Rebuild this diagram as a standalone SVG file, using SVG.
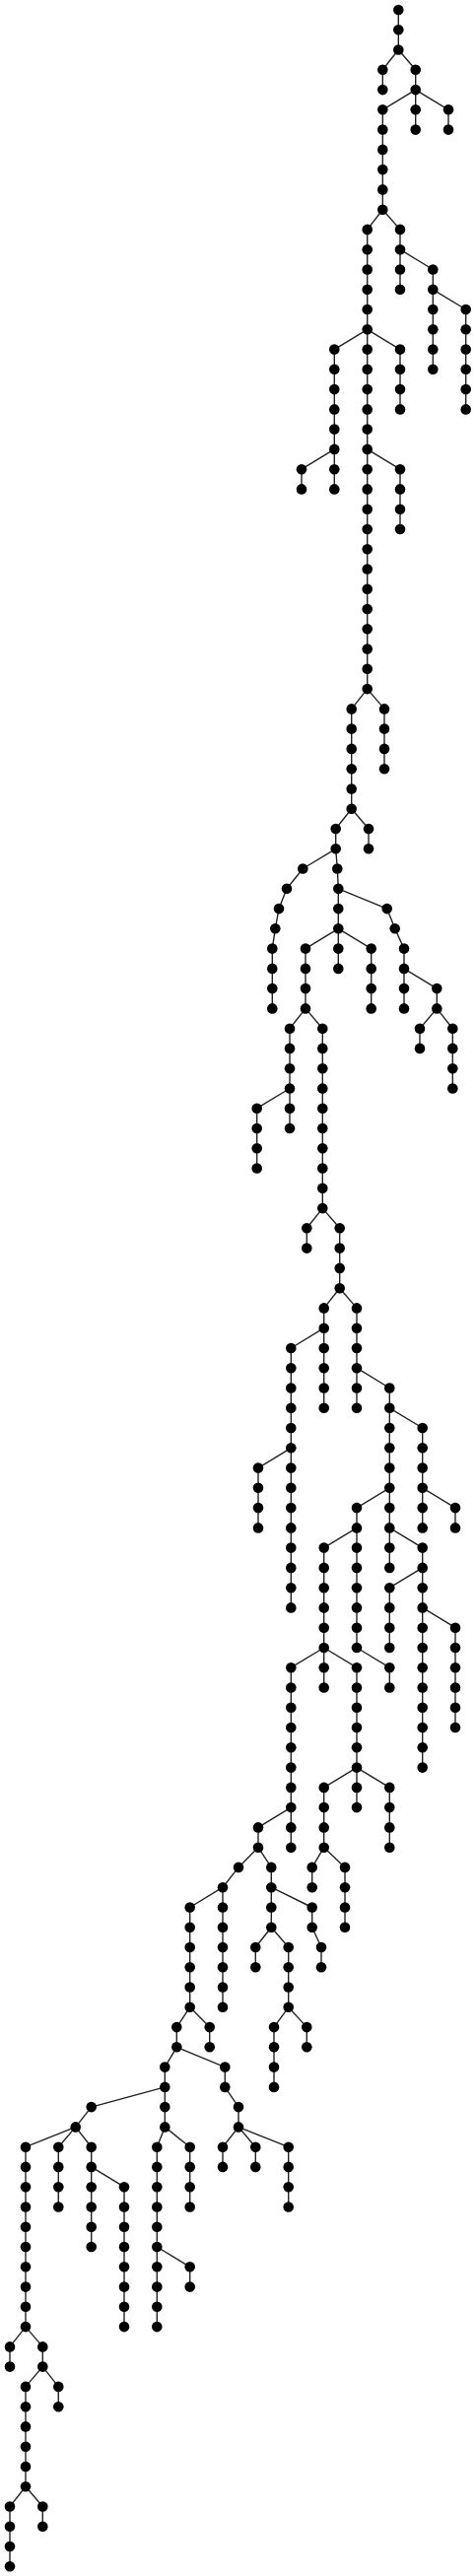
<svg xmlns="http://www.w3.org/2000/svg" width="483" height="2614" viewBox="0 0 483 2614">
<style>
.links path{fill:none;stroke:#222;stroke-width:1.4}
.node circle{fill:#000}
</style>
<rect width="483" height="2614" fill="#fff"/>
<g id="links" class="links">
<path d="M404.3 10L404.3 30.3"/><path d="M404.3 30.3L404.3 50.5"/><path d="M404.3 50.5L388.3 70.8"/><path d="M388.3 70.8L388.3 91.1"/><path d="M404.3 50.5L421.7 70.8"/><path d="M421.7 70.8L421.7 91.1"/><path d="M421.7 91.1L388.3 111.3"/><path d="M421.7 91.1L421.7 111.3"/><path d="M421.7 91.1L455 111.3"/><path d="M421.7 111.3L421.7 131.6"/><path d="M455 111.3L455 131.6"/>
<path d="M388.3 111.3L388.3 131.6"/><path d="M388.3 131.6L388.3 151.9"/><path d="M388.3 151.9L388.3 172.1"/><path d="M388.3 172.1L388.3 192.4"/><path d="M388.3 192.4L388.3 212.7"/><path d="M388.3 212.7L372.7 232.9"/><path d="M388.3 212.7L406 232.9"/>
<path d="M406 232.9L406 253.2"/><path d="M406 253.2L406 273.5"/><path d="M406 273.5L406 293.8"/><path d="M406 253.2L439.3 273.5"/><path d="M439.3 273.5L439.3 293.8"/><path d="M439.3 293.8L439.3 314"/><path d="M439.3 314L439.3 334.3"/><path d="M439.3 334.3L439.3 354.6"/><path d="M439.3 354.6L439.3 374.8"/>
<path d="M439.3 293.8L472.7 314"/><path d="M472.7 314L472.7 334.3"/><path d="M472.7 334.3L472.7 354.6"/><path d="M472.7 354.6L472.7 374.8"/><path d="M472.7 374.8L472.7 395.1"/><path d="M472.7 395.1L472.7 415.4"/>
<path d="M372.7 232.9L372.7 253.2"/><path d="M372.7 253.2L372.7 273.5"/><path d="M372.7 273.5L372.7 293.8"/><path d="M372.7 293.8L372.7 314"/><path d="M372.7 314L372.7 334.3"/>
<path d="M372.7 334.3L339.3 354.6"/><path d="M372.7 334.3L372.7 354.6"/><path d="M372.7 334.3L406 354.6"/>
<path d="M406 354.6L406 374.8"/><path d="M406 374.8L406 395.1"/><path d="M406 395.1L406 415.4"/>
<path d="M339.3 354.6L339.3 374.8"/><path d="M339.3 374.8L339.3 395.1"/><path d="M339.3 395.1L339.3 415.4"/><path d="M339.3 415.4L339.3 435.6"/><path d="M339.3 435.6L339.3 455.9"/>
<path d="M339.3 455.9L306 476.2"/><path d="M306 476.2L306 496.4"/><path d="M339.3 455.9L339.3 476.2"/><path d="M339.3 476.2L339.3 496.4"/>
<path d="M372.7 354.6L372.7 374.8"/><path d="M372.7 374.8L372.7 395.1"/><path d="M372.7 395.1L372.7 415.4"/><path d="M372.7 415.4L372.7 435.6"/><path d="M372.7 435.6L372.7 455.9"/>
<path d="M372.7 455.9L406 476.2"/><path d="M406 476.2L406 496.4"/><path d="M406 496.4L406 516.7"/><path d="M406 516.7L406 537"/>
<path d="M372.7 455.9L372.7 476.2"/><path d="M372.7 476.2L372.7 496.4"/><path d="M372.7 496.4L372.7 516.7"/><path d="M372.7 516.7L372.7 537"/><path d="M372.7 537L372.7 557.2"/><path d="M372.7 557.2L372.7 577.5"/><path d="M372.7 577.5L372.7 597.8"/><path d="M372.7 597.8L372.7 618"/><path d="M372.7 618L372.7 638.3"/><path d="M372.7 638.3L372.7 658.6"/><path d="M372.7 658.6L372.7 678.8"/><path d="M372.7 678.8L372.7 699.1"/>
<path d="M372.7 699.1L356.7 719.4"/><path d="M372.7 699.1L390 719.4"/><path d="M390 719.4L390 739.6"/><path d="M390 739.6L390 759.9"/><path d="M390 759.9L390 780.2"/>
<path d="M356.7 719.4L356.7 739.6"/><path d="M356.7 739.6L356.7 759.9"/><path d="M356.7 759.9L356.7 780.2"/><path d="M356.7 780.2L356.7 800.5"/><path d="M356.7 800.5L356.7 820.7"/>
<path d="M356.7 820.7L340.7 841"/><path d="M340.7 841L340.7 861.3"/><path d="M356.7 820.7L374 841"/><path d="M374 841L374 861.3"/>
<path d="M340.7 861.3L307.3 881.5"/><path d="M307.3 881.5L291 901.8"/><path d="M291 901.8L283 922.1"/><path d="M283 922.1L279.3 942.3"/><path d="M279.3 942.3L276.3 962.6"/><path d="M276.3 962.6L276.3 982.9"/><path d="M276.3 982.9L276.3 1003.1"/><path d="M276.3 1003.1L276.3 1023.4"/>
<path d="M340.7 861.3L342.3 881.5"/><path d="M342.3 881.5L343.3 901.8"/><path d="M343.3 901.8L343.3 922.1"/><path d="M343.3 922.1L343.3 942.3"/>
<path d="M343.3 901.8L392.7 922.1"/><path d="M392.7 922.1L400.7 942.3"/><path d="M400.7 942.3L410 962.6"/><path d="M410 962.6L410 982.9"/><path d="M410 982.9L410 1003.1"/><path d="M410 1003.1L410 1023.4"/>
<path d="M410 982.9L443.3 1003.1"/><path d="M443.3 1003.1L443.3 1023.4"/><path d="M443.3 1023.4L426 1043.7"/><path d="M426 1043.7L426 1063.9"/>
<path d="M443.3 1023.4L459.3 1043.7"/><path d="M459.3 1043.7L459.3 1063.9"/><path d="M459.3 1063.9L459.3 1084.2"/><path d="M459.3 1084.2L459.3 1104.5"/>
<path d="M343.3 942.3L310 962.6"/><path d="M310 962.6L310 982.9"/><path d="M310 982.9L310 1003.1"/><path d="M310 1003.1L310 1023.4"/>
<path d="M343.3 942.3L343.3 962.6"/><path d="M343.3 962.6L343.3 982.9"/>
<path d="M343.3 942.3L376.7 962.6"/><path d="M376.7 962.6L376.7 982.9"/><path d="M376.7 982.9L376.7 1003.1"/><path d="M376.7 1003.1L376.7 1023.4"/>
<path d="M310 1023.4L294 1043.7"/><path d="M294 1043.7L294 1063.9"/><path d="M294 1063.9L294 1084.2"/><path d="M294 1084.2L294 1104.5"/>
<path d="M294 1104.5L260.7 1124.7"/><path d="M260.7 1124.7L260.7 1145"/><path d="M260.7 1145L260.7 1165.3"/><path d="M260.7 1165.3L260.7 1185.5"/>
<path d="M294 1104.5L294 1124.7"/><path d="M294 1124.7L294 1145"/>
<path d="M310 1023.4L327.3 1043.7"/><path d="M327.3 1043.7L327.3 1063.9"/><path d="M327.3 1063.9L327.3 1084.2"/><path d="M327.3 1084.2L327.3 1104.5"/><path d="M327.3 1104.5L327.3 1124.7"/><path d="M327.3 1124.7L327.3 1145"/><path d="M327.3 1145L327.3 1165.3"/><path d="M327.3 1165.3L327.3 1185.5"/><path d="M327.3 1185.5L327.3 1205.8"/><path d="M327.3 1205.8L327.3 1226.1"/>
<path d="M327.3 1226.1L311.3 1246.3"/><path d="M311.3 1246.3L311.3 1266.6"/>
<path d="M327.3 1226.1L344.7 1246.3"/><path d="M344.7 1246.3L344.7 1266.6"/><path d="M344.7 1266.6L344.7 1286.9"/><path d="M344.7 1286.9L344.7 1307.2"/>
<path d="M344.7 1307.2L328.7 1327.4"/><path d="M328.7 1327.4L328.7 1347.7"/>
<path d="M344.7 1307.2L362 1327.4"/><path d="M362 1327.4L362 1347.7"/><path d="M362 1347.7L362 1368"/><path d="M362 1368L362 1388.2"/>
<path d="M328.7 1347.7L295.3 1368"/><path d="M295.3 1368L295.3 1388.2"/><path d="M295.3 1388.2L295.3 1408.5"/><path d="M295.3 1408.5L295.3 1428.8"/><path d="M295.3 1428.8L295.3 1449"/><path d="M295.3 1449L295.3 1469.3"/>
<path d="M328.7 1347.7L328.7 1368"/><path d="M328.7 1368L328.7 1388.2"/><path d="M328.7 1388.2L328.7 1408.5"/><path d="M328.7 1408.5L328.7 1428.8"/>
<path d="M362 1388.2L362 1408.5"/><path d="M362 1408.5L362 1428.8"/>
<path d="M362 1388.2L395.3 1408.5"/><path d="M395.3 1408.5L395.3 1428.8"/>
<path d="M295.3 1469.3L262 1489.6"/><path d="M262 1489.6L262 1509.8"/><path d="M262 1509.8L262 1530.1"/><path d="M262 1530.1L262 1550.4"/>
<path d="M295.3 1469.3L295.3 1489.6"/><path d="M295.3 1489.6L295.3 1509.8"/><path d="M295.3 1509.8L295.3 1530.1"/><path d="M295.3 1530.1L295.3 1550.4"/><path d="M295.3 1550.4L295.3 1570.6"/><path d="M295.3 1570.6L295.3 1590.9"/><path d="M295.3 1590.9L295.3 1611.2"/><path d="M295.3 1611.2L295.3 1631.4"/>
<path d="M395.3 1428.8L395.3 1449"/><path d="M395.3 1449L395.3 1469.3"/><path d="M395.3 1469.3L395.3 1489.6"/><path d="M395.3 1489.6L395.3 1509.8"/>
<path d="M395.3 1428.8L428.7 1449"/><path d="M428.7 1449L428.7 1469.3"/><path d="M428.7 1469.3L428.7 1489.6"/><path d="M428.7 1489.6L428.7 1509.8"/>
<path d="M395.3 1509.8L362 1530.1"/><path d="M362 1530.1L362 1550.4"/><path d="M395.3 1509.8L395.3 1530.1"/><path d="M395.3 1530.1L395.3 1550.4"/>
<path d="M428.7 1509.8L428.7 1530.1"/><path d="M428.7 1530.1L428.7 1550.4"/><path d="M428.7 1509.8L462 1530.1"/><path d="M462 1530.1L462 1550.4"/>
<path d="M362 1550.4L328.7 1570.6"/><path d="M328.7 1570.6L328.7 1590.9"/><path d="M328.7 1590.9L328.7 1611.2"/><path d="M328.7 1611.2L328.7 1631.4"/><path d="M328.7 1631.4L328.7 1651.7"/><path d="M328.7 1651.7L328.7 1672"/>
<path d="M362 1550.4L362 1570.6"/><path d="M362 1570.6L362 1590.9"/><path d="M362 1590.9L362 1611.2"/><path d="M362 1611.2L362 1631.4"/><path d="M362 1631.4L362 1651.7"/><path d="M362 1651.7L362 1672"/>
<path d="M395.3 1550.4L395.3 1570.6"/><path d="M395.3 1570.6L395.3 1590.9"/>
<path d="M395.3 1550.4L428.7 1570.6"/><path d="M428.7 1570.6L428.7 1590.9"/>
<path d="M428.7 1590.9L395.3 1611.2"/><path d="M395.3 1611.2L395.3 1631.4"/><path d="M395.3 1631.4L395.3 1651.7"/><path d="M395.3 1651.7L395.3 1672"/>
<path d="M428.7 1590.9L428.7 1611.2"/><path d="M428.7 1611.2L428.7 1631.4"/>
<path d="M428.7 1631.4L428.7 1651.7"/><path d="M428.7 1651.7L428.7 1672"/><path d="M428.7 1672L428.7 1692.2"/><path d="M428.7 1692.2L428.7 1712.5"/><path d="M428.7 1712.5L428.7 1732.8"/><path d="M428.7 1732.8L428.7 1753"/><path d="M428.7 1753L428.7 1773.3"/><path d="M428.7 1773.3L428.7 1793.6"/>
<path d="M428.7 1631.4L462 1651.7"/><path d="M462 1651.7L462 1672"/><path d="M462 1672L462 1692.2"/><path d="M462 1692.2L462 1712.5"/><path d="M462 1712.5L462 1732.8"/><path d="M462 1732.8L462 1753"/>
<path d="M328.7 1672L295.3 1692.2"/><path d="M295.3 1692.2L295.3 1712.5"/><path d="M295.3 1712.5L295.3 1732.8"/><path d="M295.3 1732.8L295.3 1753"/><path d="M295.3 1753L295.3 1773.3"/><path d="M295.3 1773.3L295.3 1793.6"/><path d="M295.3 1793.6L295.3 1813.9"/><path d="M295.3 1813.9L295.3 1834.1"/>
<path d="M328.7 1672L328.7 1692.2"/><path d="M328.7 1692.2L328.7 1712.5"/>
<path d="M328.7 1672L362 1692.2"/><path d="M362 1692.2L362 1712.5"/><path d="M362 1712.5L362 1732.8"/><path d="M362 1732.8L362 1753"/><path d="M362 1753L362 1773.3"/><path d="M362 1773.3L362 1793.6"/>
<path d="M362 1672L395.3 1692.2"/><path d="M395.3 1692.2L395.3 1712.5"/>
<path d="M362 1793.6L328.7 1813.9"/><path d="M328.7 1813.9L328.7 1834.1"/><path d="M328.7 1834.1L328.7 1854.4"/><path d="M328.7 1854.4L328.7 1874.7"/>
<path d="M362 1793.6L362 1813.9"/><path d="M362 1813.9L362 1834.1"/>
<path d="M362 1793.6L395.3 1813.9"/><path d="M395.3 1813.9L395.3 1834.1"/><path d="M395.3 1834.1L395.3 1854.4"/><path d="M395.3 1854.4L395.3 1874.7"/>
<path d="M295.3 1834.1L262 1854.4"/><path d="M262 1854.4L262 1874.7"/><path d="M295.3 1834.1L295.3 1854.4"/><path d="M295.3 1854.4L295.3 1874.7"/>
<path d="M328.7 1874.7L316.7 1894.9"/><path d="M316.7 1894.9L316.7 1915.2"/>
<path d="M328.7 1874.7L350 1894.9"/><path d="M350 1894.9L350 1915.2"/><path d="M350 1915.2L350 1935.5"/><path d="M350 1935.5L350 1955.7"/>
<path d="M262 1874.7L242 1894.9"/><path d="M242 1894.9L226 1915.2"/><path d="M262 1874.7L275.3 1894.9"/><path d="M275.3 1894.9L275.3 1915.2"/>
<path d="M226 1915.2L192.7 1935.5"/><path d="M192.7 1935.5L192.7 1955.7"/><path d="M192.7 1955.7L192.7 1976"/><path d="M192.7 1976L192.7 1996.3"/><path d="M192.7 1996.3L192.7 2016.5"/><path d="M192.7 2016.5L192.7 2036.8"/>
<path d="M226 1915.2L226 1935.5"/><path d="M226 1935.5L226 1955.7"/><path d="M226 1955.7L226 1976"/><path d="M226 1976L226 1996.3"/><path d="M226 1996.3L226 2016.5"/><path d="M226 2016.5L226 2036.8"/>
<path d="M275.3 1915.2L275.3 1935.5"/><path d="M275.3 1935.5L275.3 1955.7"/>
<path d="M275.3 1915.2L316.7 1935.5"/><path d="M316.7 1935.5L316.7 1955.7"/><path d="M316.7 1955.7L326 1976"/><path d="M326 1976L326 1996.3"/>
<path d="M275.3 1955.7L259.3 1976"/><path d="M259.3 1976L259.3 1996.3"/>
<path d="M275.3 1955.7L292.7 1976"/><path d="M292.7 1976L292.7 1996.3"/><path d="M292.7 1996.3L292.7 2016.5"/><path d="M292.7 2016.5L292.7 2036.8"/>
<path d="M292.7 2036.8L278 2057.1"/><path d="M278 2057.1L278 2077.3"/><path d="M278 2077.3L278 2097.6"/><path d="M278 2097.6L278 2117.9"/>
<path d="M292.7 2036.8L311.3 2057.1"/><path d="M311.3 2057.1L311.3 2077.3"/>
<path d="M192.7 2036.8L179.3 2057.1"/><path d="M179.3 2057.1L179.3 2077.3"/><path d="M192.7 2036.8L212.7 2057.1"/><path d="M212.7 2057.1L212.7 2077.3"/>
<path d="M179.3 2077.3L167.3 2097.6"/><path d="M167.3 2097.6L167.3 2117.9"/>
<path d="M179.3 2077.3L228.3 2097.6"/><path d="M228.3 2097.6L228.3 2117.9"/><path d="M228.3 2117.9L242 2138.1"/><path d="M242 2138.1L242 2158.4"/>
<path d="M167.3 2117.9L92.7 2138.1"/><path d="M92.7 2138.1L76.7 2158.4"/>
<path d="M167.3 2117.9L167.3 2138.1"/><path d="M167.3 2138.1L167.3 2158.4"/>
<path d="M76.7 2158.4L26 2178.7"/><path d="M26 2178.7L26 2198.9"/><path d="M26 2198.9L26 2219.2"/><path d="M26 2219.2L26 2239.5"/><path d="M26 2239.5L26 2259.7"/><path d="M26 2259.7L26 2280"/><path d="M26 2280L26 2300.3"/><path d="M26 2300.3L26 2320.6"/><path d="M26 2320.6L26 2340.8"/><path d="M26 2340.8L26 2361.1"/>
<path d="M76.7 2158.4L59.3 2178.7"/><path d="M59.3 2178.7L59.3 2198.9"/><path d="M59.3 2198.9L59.3 2219.2"/><path d="M59.3 2219.2L59.3 2239.5"/>
<path d="M76.7 2158.4L92.7 2178.7"/><path d="M92.7 2178.7L92.7 2198.9"/>
<path d="M92.7 2198.9L92.7 2219.2"/><path d="M92.7 2219.2L92.7 2239.5"/><path d="M92.7 2239.5L92.7 2259.7"/><path d="M92.7 2259.7L92.7 2280"/>
<path d="M92.7 2198.9L126 2219.2"/><path d="M126 2219.2L126 2239.5"/><path d="M126 2239.5L126 2259.7"/><path d="M126 2259.7L126 2280"/><path d="M126 2280L126 2300.3"/><path d="M126 2300.3L126 2320.6"/><path d="M126 2320.6L126 2340.8"/><path d="M126 2340.8L126 2361.1"/>
<path d="M167.3 2158.4L159.3 2178.7"/><path d="M159.3 2178.7L159.3 2198.9"/><path d="M159.3 2198.9L159.3 2219.2"/><path d="M159.3 2219.2L159.3 2239.5"/><path d="M159.3 2239.5L159.3 2259.7"/><path d="M159.3 2259.7L159.3 2280"/>
<path d="M159.3 2280L159.3 2300.3"/><path d="M159.3 2300.3L159.3 2320.6"/><path d="M159.3 2320.6L159.3 2340.8"/><path d="M159.3 2340.8L159.3 2361.1"/>
<path d="M159.3 2280L192.7 2300.3"/><path d="M192.7 2300.3L192.7 2320.6"/>
<path d="M167.3 2158.4L192.7 2178.7"/><path d="M192.7 2178.7L192.7 2198.9"/><path d="M192.7 2198.9L192.7 2219.2"/><path d="M192.7 2219.2L192.7 2239.5"/>
<path d="M242 2158.4L226 2178.7"/><path d="M226 2178.7L226 2198.9"/>
<path d="M242 2158.4L259.3 2178.7"/><path d="M259.3 2178.7L259.3 2198.9"/>
<path d="M242 2158.4L292.7 2178.7"/><path d="M292.7 2178.7L292.7 2198.9"/><path d="M292.7 2198.9L292.7 2219.2"/><path d="M292.7 2219.2L292.7 2239.5"/>
<path d="M26 2361.1L10 2381.4"/><path d="M10 2381.4L10 2401.6"/>
<path d="M26 2361.1L43.3 2381.4"/><path d="M43.3 2381.4L43.3 2401.6"/>
<path d="M43.3 2401.6L26 2421.9"/><path d="M26 2421.9L26 2442.2"/><path d="M26 2442.2L26 2462.4"/><path d="M26 2462.4L26 2482.7"/><path d="M26 2482.7L26 2503"/><path d="M26 2503L26 2523.2"/>
<path d="M43.3 2401.6L59.3 2421.9"/><path d="M59.3 2421.9L59.3 2442.2"/>
<path d="M26 2523.2L10 2543.5"/><path d="M10 2543.5L10 2563.8"/><path d="M10 2563.8L10 2584"/><path d="M10 2584L10 2604.3"/>
<path d="M26 2523.2L43.3 2543.5"/><path d="M43.3 2543.5L43.3 2563.8"/>
</g>
<g class="node">
<g id="n0"><circle cx="404.3" cy="10" r="5.3"/></g><g id="n1"><circle cx="404.3" cy="30.3" r="5.3"/></g><g id="n2"><circle cx="404.3" cy="50.5" r="5.3"/></g><g id="n3"><circle cx="388.3" cy="70.8" r="5.3"/></g><g id="n4"><circle cx="388.3" cy="91.1" r="5.3"/></g><g id="n5"><circle cx="421.7" cy="70.8" r="5.3"/></g><g id="n6"><circle cx="421.7" cy="91.1" r="5.3"/></g><g id="n7"><circle cx="388.3" cy="111.3" r="5.3"/></g><g id="n8"><circle cx="421.7" cy="111.3" r="5.3"/></g><g id="n9"><circle cx="455" cy="111.3" r="5.3"/></g>
<g id="n10"><circle cx="421.7" cy="131.6" r="5.3"/></g><g id="n11"><circle cx="455" cy="131.6" r="5.3"/></g><g id="n12"><circle cx="388.3" cy="131.6" r="5.3"/></g><g id="n13"><circle cx="388.3" cy="151.9" r="5.3"/></g><g id="n14"><circle cx="388.3" cy="172.1" r="5.3"/></g><g id="n15"><circle cx="388.3" cy="192.4" r="5.3"/></g><g id="n16"><circle cx="388.3" cy="212.7" r="5.3"/></g><g id="n17"><circle cx="372.7" cy="232.9" r="5.3"/></g><g id="n18"><circle cx="406" cy="232.9" r="5.3"/></g><g id="n19"><circle cx="406" cy="253.2" r="5.3"/></g>
<g id="n20"><circle cx="406" cy="273.5" r="5.3"/></g><g id="n21"><circle cx="406" cy="293.8" r="5.3"/></g><g id="n22"><circle cx="439.3" cy="273.5" r="5.3"/></g><g id="n23"><circle cx="439.3" cy="293.8" r="5.3"/></g><g id="n24"><circle cx="439.3" cy="314" r="5.3"/></g><g id="n25"><circle cx="439.3" cy="334.3" r="5.3"/></g><g id="n26"><circle cx="439.3" cy="354.6" r="5.3"/></g><g id="n27"><circle cx="439.3" cy="374.8" r="5.3"/></g><g id="n28"><circle cx="472.7" cy="314" r="5.3"/></g><g id="n29"><circle cx="472.7" cy="334.3" r="5.3"/></g>
<g id="n30"><circle cx="472.7" cy="354.6" r="5.3"/></g><g id="n31"><circle cx="472.7" cy="374.8" r="5.3"/></g><g id="n32"><circle cx="472.7" cy="395.1" r="5.3"/></g><g id="n33"><circle cx="472.7" cy="415.4" r="5.3"/></g><g id="n34"><circle cx="372.7" cy="253.2" r="5.3"/></g><g id="n35"><circle cx="372.7" cy="273.5" r="5.3"/></g><g id="n36"><circle cx="372.7" cy="293.8" r="5.3"/></g><g id="n37"><circle cx="372.7" cy="314" r="5.3"/></g><g id="n38"><circle cx="372.7" cy="334.3" r="5.3"/></g><g id="n39"><circle cx="339.3" cy="354.6" r="5.3"/></g>
<g id="n40"><circle cx="372.7" cy="354.6" r="5.3"/></g><g id="n41"><circle cx="406" cy="354.6" r="5.3"/></g><g id="n42"><circle cx="406" cy="374.8" r="5.3"/></g><g id="n43"><circle cx="406" cy="395.1" r="5.3"/></g><g id="n44"><circle cx="406" cy="415.4" r="5.3"/></g><g id="n45"><circle cx="339.3" cy="374.8" r="5.3"/></g><g id="n46"><circle cx="339.3" cy="395.1" r="5.3"/></g><g id="n47"><circle cx="339.3" cy="415.4" r="5.3"/></g><g id="n48"><circle cx="339.3" cy="435.6" r="5.3"/></g><g id="n49"><circle cx="339.3" cy="455.9" r="5.3"/></g>
<g id="n50"><circle cx="306" cy="476.2" r="5.3"/></g><g id="n51"><circle cx="306" cy="496.4" r="5.3"/></g><g id="n52"><circle cx="339.3" cy="476.2" r="5.3"/></g><g id="n53"><circle cx="339.3" cy="496.4" r="5.3"/></g><g id="n54"><circle cx="372.7" cy="374.8" r="5.3"/></g><g id="n55"><circle cx="372.7" cy="395.1" r="5.3"/></g><g id="n56"><circle cx="372.7" cy="415.4" r="5.3"/></g><g id="n57"><circle cx="372.7" cy="435.6" r="5.3"/></g><g id="n58"><circle cx="372.7" cy="455.9" r="5.3"/></g><g id="n59"><circle cx="406" cy="476.2" r="5.3"/></g>
<g id="n60"><circle cx="406" cy="496.4" r="5.3"/></g><g id="n61"><circle cx="406" cy="516.7" r="5.3"/></g><g id="n62"><circle cx="406" cy="537" r="5.3"/></g><g id="n63"><circle cx="372.7" cy="476.2" r="5.3"/></g><g id="n64"><circle cx="372.7" cy="496.4" r="5.3"/></g><g id="n65"><circle cx="372.7" cy="516.7" r="5.3"/></g><g id="n66"><circle cx="372.7" cy="537" r="5.3"/></g><g id="n67"><circle cx="372.7" cy="557.2" r="5.3"/></g><g id="n68"><circle cx="372.7" cy="577.5" r="5.3"/></g><g id="n69"><circle cx="372.7" cy="597.8" r="5.3"/></g>
<g id="n70"><circle cx="372.7" cy="618" r="5.3"/></g><g id="n71"><circle cx="372.7" cy="638.3" r="5.3"/></g><g id="n72"><circle cx="372.7" cy="658.6" r="5.3"/></g><g id="n73"><circle cx="372.7" cy="678.8" r="5.3"/></g><g id="n74"><circle cx="372.7" cy="699.1" r="5.3"/></g><g id="n75"><circle cx="356.7" cy="719.4" r="5.3"/></g><g id="n76"><circle cx="390" cy="719.4" r="5.3"/></g><g id="n77"><circle cx="390" cy="739.6" r="5.3"/></g><g id="n78"><circle cx="390" cy="759.9" r="5.3"/></g><g id="n79"><circle cx="390" cy="780.2" r="5.3"/></g>
<g id="n80"><circle cx="356.7" cy="739.6" r="5.3"/></g><g id="n81"><circle cx="356.7" cy="759.9" r="5.3"/></g><g id="n82"><circle cx="356.7" cy="780.2" r="5.3"/></g><g id="n83"><circle cx="356.7" cy="800.5" r="5.3"/></g><g id="n84"><circle cx="356.7" cy="820.7" r="5.3"/></g><g id="n85"><circle cx="340.7" cy="841" r="5.3"/></g><g id="n86"><circle cx="340.7" cy="861.3" r="5.3"/></g><g id="n87"><circle cx="374" cy="841" r="5.3"/></g><g id="n88"><circle cx="374" cy="861.3" r="5.3"/></g><g id="n89"><circle cx="307.3" cy="881.5" r="5.3"/></g>
<g id="n90"><circle cx="291" cy="901.8" r="5.3"/></g><g id="n91"><circle cx="283" cy="922.1" r="5.3"/></g><g id="n92"><circle cx="279.3" cy="942.3" r="5.3"/></g><g id="n93"><circle cx="276.3" cy="962.6" r="5.3"/></g><g id="n94"><circle cx="276.3" cy="982.9" r="5.3"/></g><g id="n95"><circle cx="276.3" cy="1003.1" r="5.3"/></g><g id="n96"><circle cx="276.3" cy="1023.4" r="5.3"/></g><g id="n97"><circle cx="342.3" cy="881.5" r="5.3"/></g><g id="n98"><circle cx="343.3" cy="901.8" r="5.3"/></g><g id="n99"><circle cx="343.3" cy="922.1" r="5.3"/></g>
<g id="n100"><circle cx="343.3" cy="942.3" r="5.3"/></g><g id="n101"><circle cx="392.7" cy="922.1" r="5.3"/></g><g id="n102"><circle cx="400.7" cy="942.3" r="5.3"/></g><g id="n103"><circle cx="410" cy="962.6" r="5.3"/></g><g id="n104"><circle cx="410" cy="982.9" r="5.3"/></g><g id="n105"><circle cx="410" cy="1003.1" r="5.3"/></g><g id="n106"><circle cx="410" cy="1023.4" r="5.3"/></g><g id="n107"><circle cx="443.3" cy="1003.1" r="5.3"/></g><g id="n108"><circle cx="443.3" cy="1023.4" r="5.3"/></g><g id="n109"><circle cx="426" cy="1043.7" r="5.3"/></g>
<g id="n110"><circle cx="426" cy="1063.9" r="5.3"/></g><g id="n111"><circle cx="459.3" cy="1043.7" r="5.3"/></g><g id="n112"><circle cx="459.3" cy="1063.9" r="5.3"/></g><g id="n113"><circle cx="459.3" cy="1084.2" r="5.3"/></g><g id="n114"><circle cx="459.3" cy="1104.5" r="5.3"/></g><g id="n115"><circle cx="310" cy="962.6" r="5.3"/></g><g id="n116"><circle cx="310" cy="982.9" r="5.3"/></g><g id="n117"><circle cx="310" cy="1003.1" r="5.3"/></g><g id="n118"><circle cx="310" cy="1023.4" r="5.3"/></g><g id="n119"><circle cx="343.3" cy="962.6" r="5.3"/></g>
<g id="n120"><circle cx="343.3" cy="982.9" r="5.3"/></g><g id="n121"><circle cx="376.7" cy="962.6" r="5.3"/></g><g id="n122"><circle cx="376.7" cy="982.9" r="5.3"/></g><g id="n123"><circle cx="376.7" cy="1003.1" r="5.3"/></g><g id="n124"><circle cx="376.7" cy="1023.4" r="5.3"/></g><g id="n125"><circle cx="294" cy="1043.7" r="5.3"/></g><g id="n126"><circle cx="294" cy="1063.9" r="5.3"/></g><g id="n127"><circle cx="294" cy="1084.2" r="5.3"/></g><g id="n128"><circle cx="294" cy="1104.5" r="5.3"/></g><g id="n129"><circle cx="260.7" cy="1124.7" r="5.3"/></g>
<g id="n130"><circle cx="260.7" cy="1145" r="5.3"/></g><g id="n131"><circle cx="260.7" cy="1165.3" r="5.3"/></g><g id="n132"><circle cx="260.7" cy="1185.5" r="5.3"/></g><g id="n133"><circle cx="294" cy="1124.7" r="5.3"/></g><g id="n134"><circle cx="294" cy="1145" r="5.3"/></g><g id="n135"><circle cx="327.3" cy="1043.7" r="5.3"/></g><g id="n136"><circle cx="327.3" cy="1063.9" r="5.3"/></g><g id="n137"><circle cx="327.3" cy="1084.2" r="5.3"/></g><g id="n138"><circle cx="327.3" cy="1104.5" r="5.3"/></g><g id="n139"><circle cx="327.3" cy="1124.7" r="5.3"/></g>
<g id="n140"><circle cx="327.3" cy="1145" r="5.3"/></g><g id="n141"><circle cx="327.3" cy="1165.3" r="5.3"/></g><g id="n142"><circle cx="327.3" cy="1185.5" r="5.3"/></g><g id="n143"><circle cx="327.3" cy="1205.8" r="5.3"/></g><g id="n144"><circle cx="327.3" cy="1226.1" r="5.3"/></g><g id="n145"><circle cx="311.3" cy="1246.3" r="5.3"/></g><g id="n146"><circle cx="311.3" cy="1266.6" r="5.3"/></g><g id="n147"><circle cx="344.7" cy="1246.3" r="5.3"/></g><g id="n148"><circle cx="344.7" cy="1266.6" r="5.3"/></g><g id="n149"><circle cx="344.7" cy="1286.9" r="5.3"/></g>
<g id="n150"><circle cx="344.7" cy="1307.2" r="5.3"/></g><g id="n151"><circle cx="328.7" cy="1327.4" r="5.3"/></g><g id="n152"><circle cx="328.7" cy="1347.7" r="5.3"/></g><g id="n153"><circle cx="362" cy="1327.4" r="5.3"/></g><g id="n154"><circle cx="362" cy="1347.7" r="5.3"/></g><g id="n155"><circle cx="362" cy="1368" r="5.3"/></g><g id="n156"><circle cx="362" cy="1388.2" r="5.3"/></g><g id="n157"><circle cx="295.3" cy="1368" r="5.3"/></g><g id="n158"><circle cx="295.3" cy="1388.2" r="5.3"/></g><g id="n159"><circle cx="295.3" cy="1408.5" r="5.3"/></g>
<g id="n160"><circle cx="295.3" cy="1428.8" r="5.3"/></g><g id="n161"><circle cx="295.3" cy="1449" r="5.3"/></g><g id="n162"><circle cx="295.3" cy="1469.3" r="5.3"/></g><g id="n163"><circle cx="328.7" cy="1368" r="5.3"/></g><g id="n164"><circle cx="328.7" cy="1388.2" r="5.3"/></g><g id="n165"><circle cx="328.7" cy="1408.5" r="5.3"/></g><g id="n166"><circle cx="328.7" cy="1428.8" r="5.3"/></g><g id="n167"><circle cx="362" cy="1408.5" r="5.3"/></g><g id="n168"><circle cx="362" cy="1428.8" r="5.3"/></g><g id="n169"><circle cx="395.3" cy="1408.5" r="5.3"/></g>
<g id="n170"><circle cx="395.3" cy="1428.8" r="5.3"/></g><g id="n171"><circle cx="262" cy="1489.6" r="5.3"/></g><g id="n172"><circle cx="262" cy="1509.8" r="5.3"/></g><g id="n173"><circle cx="262" cy="1530.1" r="5.3"/></g><g id="n174"><circle cx="262" cy="1550.4" r="5.3"/></g><g id="n175"><circle cx="295.3" cy="1489.6" r="5.3"/></g><g id="n176"><circle cx="295.3" cy="1509.8" r="5.3"/></g><g id="n177"><circle cx="295.3" cy="1530.1" r="5.3"/></g><g id="n178"><circle cx="295.3" cy="1550.4" r="5.3"/></g><g id="n179"><circle cx="295.3" cy="1570.6" r="5.3"/></g>
<g id="n180"><circle cx="295.3" cy="1590.9" r="5.3"/></g><g id="n181"><circle cx="295.3" cy="1611.2" r="5.3"/></g><g id="n182"><circle cx="295.3" cy="1631.4" r="5.3"/></g><g id="n183"><circle cx="395.3" cy="1449" r="5.3"/></g><g id="n184"><circle cx="395.3" cy="1469.3" r="5.3"/></g><g id="n185"><circle cx="395.3" cy="1489.6" r="5.3"/></g><g id="n186"><circle cx="395.3" cy="1509.8" r="5.3"/></g><g id="n187"><circle cx="428.7" cy="1449" r="5.3"/></g><g id="n188"><circle cx="428.7" cy="1469.3" r="5.3"/></g><g id="n189"><circle cx="428.7" cy="1489.6" r="5.3"/></g>
<g id="n190"><circle cx="428.7" cy="1509.8" r="5.3"/></g><g id="n191"><circle cx="362" cy="1530.1" r="5.3"/></g><g id="n192"><circle cx="362" cy="1550.4" r="5.3"/></g><g id="n193"><circle cx="395.3" cy="1530.1" r="5.3"/></g><g id="n194"><circle cx="395.3" cy="1550.4" r="5.3"/></g><g id="n195"><circle cx="428.7" cy="1530.1" r="5.3"/></g><g id="n196"><circle cx="428.7" cy="1550.4" r="5.3"/></g><g id="n197"><circle cx="462" cy="1530.1" r="5.3"/></g><g id="n198"><circle cx="462" cy="1550.4" r="5.3"/></g><g id="n199"><circle cx="328.7" cy="1570.6" r="5.3"/></g>
<g id="n200"><circle cx="328.7" cy="1590.9" r="5.3"/></g><g id="n201"><circle cx="328.7" cy="1611.2" r="5.3"/></g><g id="n202"><circle cx="328.7" cy="1631.4" r="5.3"/></g><g id="n203"><circle cx="328.7" cy="1651.7" r="5.3"/></g><g id="n204"><circle cx="328.7" cy="1672" r="5.3"/></g><g id="n205"><circle cx="362" cy="1570.6" r="5.3"/></g><g id="n206"><circle cx="362" cy="1590.9" r="5.3"/></g><g id="n207"><circle cx="362" cy="1611.2" r="5.3"/></g><g id="n208"><circle cx="362" cy="1631.4" r="5.3"/></g><g id="n209"><circle cx="362" cy="1651.7" r="5.3"/></g>
<g id="n210"><circle cx="362" cy="1672" r="5.3"/></g><g id="n211"><circle cx="395.3" cy="1570.6" r="5.3"/></g><g id="n212"><circle cx="395.3" cy="1590.9" r="5.3"/></g><g id="n213"><circle cx="428.7" cy="1570.6" r="5.3"/></g><g id="n214"><circle cx="428.7" cy="1590.9" r="5.3"/></g><g id="n215"><circle cx="395.3" cy="1611.2" r="5.3"/></g><g id="n216"><circle cx="395.3" cy="1631.4" r="5.3"/></g><g id="n217"><circle cx="395.3" cy="1651.7" r="5.3"/></g><g id="n218"><circle cx="395.3" cy="1672" r="5.3"/></g><g id="n219"><circle cx="428.7" cy="1611.2" r="5.3"/></g>
<g id="n220"><circle cx="428.7" cy="1631.4" r="5.3"/></g><g id="n221"><circle cx="428.7" cy="1651.7" r="5.3"/></g><g id="n222"><circle cx="428.7" cy="1672" r="5.3"/></g><g id="n223"><circle cx="428.7" cy="1692.2" r="5.3"/></g><g id="n224"><circle cx="428.7" cy="1712.5" r="5.3"/></g><g id="n225"><circle cx="428.7" cy="1732.8" r="5.3"/></g><g id="n226"><circle cx="428.7" cy="1753" r="5.3"/></g><g id="n227"><circle cx="428.7" cy="1773.3" r="5.3"/></g><g id="n228"><circle cx="428.7" cy="1793.6" r="5.3"/></g><g id="n229"><circle cx="462" cy="1651.7" r="5.3"/></g>
<g id="n230"><circle cx="462" cy="1672" r="5.3"/></g><g id="n231"><circle cx="462" cy="1692.2" r="5.3"/></g><g id="n232"><circle cx="462" cy="1712.5" r="5.3"/></g><g id="n233"><circle cx="462" cy="1732.8" r="5.3"/></g><g id="n234"><circle cx="462" cy="1753" r="5.3"/></g><g id="n235"><circle cx="295.3" cy="1692.2" r="5.3"/></g><g id="n236"><circle cx="295.3" cy="1712.5" r="5.3"/></g><g id="n237"><circle cx="295.3" cy="1732.8" r="5.3"/></g><g id="n238"><circle cx="295.3" cy="1753" r="5.3"/></g><g id="n239"><circle cx="295.3" cy="1773.3" r="5.3"/></g>
<g id="n240"><circle cx="295.3" cy="1793.6" r="5.3"/></g><g id="n241"><circle cx="295.3" cy="1813.9" r="5.3"/></g><g id="n242"><circle cx="295.3" cy="1834.1" r="5.3"/></g><g id="n243"><circle cx="328.7" cy="1692.2" r="5.3"/></g><g id="n244"><circle cx="328.7" cy="1712.5" r="5.3"/></g><g id="n245"><circle cx="362" cy="1692.2" r="5.3"/></g><g id="n246"><circle cx="362" cy="1712.5" r="5.3"/></g><g id="n247"><circle cx="362" cy="1732.8" r="5.3"/></g><g id="n248"><circle cx="362" cy="1753" r="5.3"/></g><g id="n249"><circle cx="362" cy="1773.3" r="5.3"/></g>
<g id="n250"><circle cx="362" cy="1793.6" r="5.3"/></g><g id="n251"><circle cx="395.3" cy="1692.2" r="5.3"/></g><g id="n252"><circle cx="395.3" cy="1712.5" r="5.3"/></g><g id="n253"><circle cx="328.7" cy="1813.9" r="5.3"/></g><g id="n254"><circle cx="328.7" cy="1834.1" r="5.3"/></g><g id="n255"><circle cx="328.7" cy="1854.4" r="5.3"/></g><g id="n256"><circle cx="328.7" cy="1874.7" r="5.3"/></g><g id="n257"><circle cx="362" cy="1813.9" r="5.3"/></g><g id="n258"><circle cx="362" cy="1834.1" r="5.3"/></g><g id="n259"><circle cx="395.3" cy="1813.9" r="5.3"/></g>
<g id="n260"><circle cx="395.3" cy="1834.1" r="5.3"/></g><g id="n261"><circle cx="395.3" cy="1854.4" r="5.3"/></g><g id="n262"><circle cx="395.3" cy="1874.7" r="5.3"/></g><g id="n263"><circle cx="262" cy="1854.4" r="5.3"/></g><g id="n264"><circle cx="262" cy="1874.7" r="5.3"/></g><g id="n265"><circle cx="295.3" cy="1854.4" r="5.3"/></g><g id="n266"><circle cx="295.3" cy="1874.7" r="5.3"/></g><g id="n267"><circle cx="316.7" cy="1894.9" r="5.3"/></g><g id="n268"><circle cx="316.7" cy="1915.2" r="5.3"/></g><g id="n269"><circle cx="350" cy="1894.9" r="5.3"/></g>
<g id="n270"><circle cx="350" cy="1915.2" r="5.3"/></g><g id="n271"><circle cx="350" cy="1935.5" r="5.3"/></g><g id="n272"><circle cx="350" cy="1955.7" r="5.3"/></g><g id="n273"><circle cx="242" cy="1894.9" r="5.3"/></g><g id="n274"><circle cx="226" cy="1915.2" r="5.3"/></g><g id="n275"><circle cx="275.3" cy="1894.9" r="5.3"/></g><g id="n276"><circle cx="275.3" cy="1915.2" r="5.3"/></g><g id="n277"><circle cx="192.7" cy="1935.5" r="5.3"/></g><g id="n278"><circle cx="192.7" cy="1955.7" r="5.3"/></g><g id="n279"><circle cx="192.7" cy="1976" r="5.3"/></g>
<g id="n280"><circle cx="192.7" cy="1996.3" r="5.3"/></g><g id="n281"><circle cx="192.7" cy="2016.5" r="5.3"/></g><g id="n282"><circle cx="192.7" cy="2036.8" r="5.3"/></g><g id="n283"><circle cx="226" cy="1935.5" r="5.3"/></g><g id="n284"><circle cx="226" cy="1955.7" r="5.3"/></g><g id="n285"><circle cx="226" cy="1976" r="5.3"/></g><g id="n286"><circle cx="226" cy="1996.3" r="5.3"/></g><g id="n287"><circle cx="226" cy="2016.5" r="5.3"/></g><g id="n288"><circle cx="226" cy="2036.8" r="5.3"/></g><g id="n289"><circle cx="275.3" cy="1935.5" r="5.3"/></g>
<g id="n290"><circle cx="275.3" cy="1955.7" r="5.3"/></g><g id="n291"><circle cx="316.7" cy="1935.5" r="5.3"/></g><g id="n292"><circle cx="316.7" cy="1955.7" r="5.3"/></g><g id="n293"><circle cx="326" cy="1976" r="5.3"/></g><g id="n294"><circle cx="326" cy="1996.3" r="5.3"/></g><g id="n295"><circle cx="259.3" cy="1976" r="5.3"/></g><g id="n296"><circle cx="259.3" cy="1996.3" r="5.3"/></g><g id="n297"><circle cx="292.7" cy="1976" r="5.3"/></g><g id="n298"><circle cx="292.7" cy="1996.3" r="5.3"/></g><g id="n299"><circle cx="292.7" cy="2016.5" r="5.3"/></g>
<g id="n300"><circle cx="292.7" cy="2036.8" r="5.3"/></g><g id="n301"><circle cx="278" cy="2057.1" r="5.3"/></g><g id="n302"><circle cx="278" cy="2077.3" r="5.3"/></g><g id="n303"><circle cx="278" cy="2097.6" r="5.3"/></g><g id="n304"><circle cx="278" cy="2117.9" r="5.3"/></g><g id="n305"><circle cx="311.3" cy="2057.1" r="5.3"/></g><g id="n306"><circle cx="311.3" cy="2077.3" r="5.3"/></g><g id="n307"><circle cx="179.3" cy="2057.1" r="5.3"/></g><g id="n308"><circle cx="179.3" cy="2077.3" r="5.3"/></g><g id="n309"><circle cx="212.7" cy="2057.1" r="5.3"/></g>
<g id="n310"><circle cx="212.7" cy="2077.3" r="5.3"/></g><g id="n311"><circle cx="167.3" cy="2097.6" r="5.3"/></g><g id="n312"><circle cx="167.3" cy="2117.9" r="5.3"/></g><g id="n313"><circle cx="228.3" cy="2097.6" r="5.3"/></g><g id="n314"><circle cx="228.3" cy="2117.9" r="5.3"/></g><g id="n315"><circle cx="242" cy="2138.1" r="5.3"/></g><g id="n316"><circle cx="242" cy="2158.4" r="5.3"/></g><g id="n317"><circle cx="92.7" cy="2138.1" r="5.3"/></g><g id="n318"><circle cx="76.7" cy="2158.4" r="5.3"/></g><g id="n319"><circle cx="167.3" cy="2138.1" r="5.3"/></g>
<g id="n320"><circle cx="167.3" cy="2158.4" r="5.3"/></g><g id="n321"><circle cx="26" cy="2178.7" r="5.3"/></g><g id="n322"><circle cx="26" cy="2198.9" r="5.3"/></g><g id="n323"><circle cx="26" cy="2219.2" r="5.3"/></g><g id="n324"><circle cx="26" cy="2239.5" r="5.3"/></g><g id="n325"><circle cx="26" cy="2259.7" r="5.3"/></g><g id="n326"><circle cx="26" cy="2280" r="5.3"/></g><g id="n327"><circle cx="26" cy="2300.3" r="5.3"/></g><g id="n328"><circle cx="26" cy="2320.6" r="5.3"/></g><g id="n329"><circle cx="26" cy="2340.8" r="5.3"/></g>
<g id="n330"><circle cx="26" cy="2361.1" r="5.3"/></g><g id="n331"><circle cx="59.3" cy="2178.7" r="5.3"/></g><g id="n332"><circle cx="59.3" cy="2198.9" r="5.3"/></g><g id="n333"><circle cx="59.3" cy="2219.2" r="5.3"/></g><g id="n334"><circle cx="59.3" cy="2239.5" r="5.3"/></g><g id="n335"><circle cx="92.7" cy="2178.7" r="5.3"/></g><g id="n336"><circle cx="92.7" cy="2198.9" r="5.3"/></g><g id="n337"><circle cx="92.7" cy="2219.2" r="5.3"/></g><g id="n338"><circle cx="92.7" cy="2239.5" r="5.3"/></g><g id="n339"><circle cx="92.7" cy="2259.7" r="5.3"/></g>
<g id="n340"><circle cx="92.7" cy="2280" r="5.3"/></g><g id="n341"><circle cx="126" cy="2219.2" r="5.3"/></g><g id="n342"><circle cx="126" cy="2239.5" r="5.3"/></g><g id="n343"><circle cx="126" cy="2259.7" r="5.3"/></g><g id="n344"><circle cx="126" cy="2280" r="5.3"/></g><g id="n345"><circle cx="126" cy="2300.3" r="5.3"/></g><g id="n346"><circle cx="126" cy="2320.6" r="5.3"/></g><g id="n347"><circle cx="126" cy="2340.8" r="5.3"/></g><g id="n348"><circle cx="126" cy="2361.1" r="5.3"/></g><g id="n349"><circle cx="159.3" cy="2178.7" r="5.3"/></g>
<g id="n350"><circle cx="159.3" cy="2198.9" r="5.3"/></g><g id="n351"><circle cx="159.3" cy="2219.2" r="5.3"/></g><g id="n352"><circle cx="159.3" cy="2239.5" r="5.3"/></g><g id="n353"><circle cx="159.3" cy="2259.7" r="5.3"/></g><g id="n354"><circle cx="159.3" cy="2280" r="5.3"/></g><g id="n355"><circle cx="159.3" cy="2300.3" r="5.3"/></g><g id="n356"><circle cx="159.3" cy="2320.6" r="5.3"/></g><g id="n357"><circle cx="159.3" cy="2340.8" r="5.3"/></g><g id="n358"><circle cx="159.3" cy="2361.1" r="5.3"/></g><g id="n359"><circle cx="192.7" cy="2300.3" r="5.3"/></g>
<g id="n360"><circle cx="192.7" cy="2320.6" r="5.3"/></g><g id="n361"><circle cx="192.7" cy="2178.7" r="5.3"/></g><g id="n362"><circle cx="192.7" cy="2198.9" r="5.3"/></g><g id="n363"><circle cx="192.7" cy="2219.2" r="5.3"/></g><g id="n364"><circle cx="192.7" cy="2239.5" r="5.3"/></g><g id="n365"><circle cx="226" cy="2178.7" r="5.3"/></g><g id="n366"><circle cx="226" cy="2198.9" r="5.3"/></g><g id="n367"><circle cx="259.3" cy="2178.7" r="5.3"/></g><g id="n368"><circle cx="259.3" cy="2198.9" r="5.3"/></g><g id="n369"><circle cx="292.7" cy="2178.7" r="5.3"/></g>
<g id="n370"><circle cx="292.7" cy="2198.9" r="5.3"/></g><g id="n371"><circle cx="292.7" cy="2219.2" r="5.3"/></g><g id="n372"><circle cx="292.7" cy="2239.5" r="5.3"/></g><g id="n373"><circle cx="10" cy="2381.4" r="5.3"/></g><g id="n374"><circle cx="10" cy="2401.6" r="5.3"/></g><g id="n375"><circle cx="43.3" cy="2381.4" r="5.3"/></g><g id="n376"><circle cx="43.3" cy="2401.6" r="5.3"/></g><g id="n377"><circle cx="26" cy="2421.9" r="5.3"/></g><g id="n378"><circle cx="26" cy="2442.2" r="5.3"/></g><g id="n379"><circle cx="26" cy="2462.4" r="5.3"/></g>
<g id="n380"><circle cx="26" cy="2482.7" r="5.3"/></g><g id="n381"><circle cx="26" cy="2503" r="5.3"/></g><g id="n382"><circle cx="26" cy="2523.2" r="5.3"/></g><g id="n383"><circle cx="59.3" cy="2421.9" r="5.3"/></g><g id="n384"><circle cx="59.3" cy="2442.2" r="5.3"/></g><g id="n385"><circle cx="10" cy="2543.5" r="5.3"/></g><g id="n386"><circle cx="10" cy="2563.8" r="5.3"/></g><g id="n387"><circle cx="10" cy="2584" r="5.3"/></g><g id="n388"><circle cx="10" cy="2604.3" r="5.3"/></g><g id="n389"><circle cx="43.3" cy="2543.5" r="5.3"/></g>
<g id="n390"><circle cx="43.3" cy="2563.8" r="5.3"/></g>
</g>
</svg>
